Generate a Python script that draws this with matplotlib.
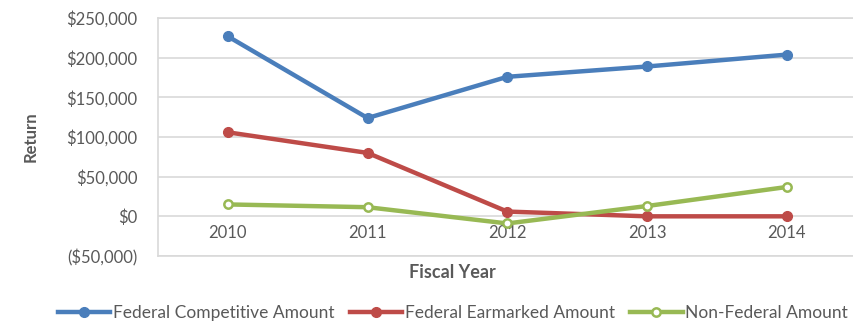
import matplotlib.pyplot as plt
from matplotlib.ticker import FuncFormatter

years = ['2010', '2011', '2012', '2013', '2014']
competitive = [227000, 124000, 176000, 189000, 204000]
earmarked = [106000, 80000, 6000, 0, 0]
non_federal = [15000, 11500, -9000, 13000, 37000]

plt.rcParams['font.family'] = ['Lato', 'DejaVu Sans']
grey = '#595959'

fig = plt.figure(figsize=(8.54, 3.24), dpi=100)
ax = fig.add_axes([0.185, 0.21, 0.818, 0.734])

x = range(len(years))
ax.plot(x, competitive, color='#4a7ebb', lw=3.2, marker='o', ms=7,
        label='Federal Competitive Amount')
ax.plot(x, earmarked, color='#be4b48', lw=3.2, marker='o', ms=7,
        label='Federal Earmarked Amount')
ax.plot(x, non_federal, color='#98b954', lw=3.2, marker='o', ms=6,
        mfc='white', mew=1.8, label='Non-Federal Amount')

ax.set_xlim(-0.5, 4.5)
ax.set_ylim(-50000, 250000)
ax.set_yticks(range(-50000, 250001, 50000))


def money(v, pos):
    if v < 0:
        return '(${:,.0f})'.format(-v)
    return '${:,.0f}'.format(v)


ax.yaxis.set_major_formatter(FuncFormatter(money))
ax.set_xticks(list(x))
ax.set_xticklabels(years)
ax.tick_params(length=0, labelsize=12, colors=grey)
ax.tick_params(axis='x', pad=-22)
ax.tick_params(axis='y', pad=15)

ax.grid(axis='y', color='#d9d9d9', lw=1.2)
ax.set_axisbelow(True)
for s in ax.spines.values():
    s.set_color('#d9d9d9')
    s.set_linewidth(1.2)

ax.set_ylabel('Return', fontsize=12, fontweight='bold', color=grey, labelpad=20)
fig.text(0.53, 0.16, 'Fiscal Year', fontsize=13, fontweight='bold',
         color=grey, ha='center', va='center')

fig.legend(loc='center left', bbox_to_anchor=(0.05, 0.035), ncol=3,
           frameon=False, fontsize=12.5, handlelength=3.0, handletextpad=0.15,
           columnspacing=0.9, labelcolor=grey)

fig.savefig('out.png', dpi=100)
